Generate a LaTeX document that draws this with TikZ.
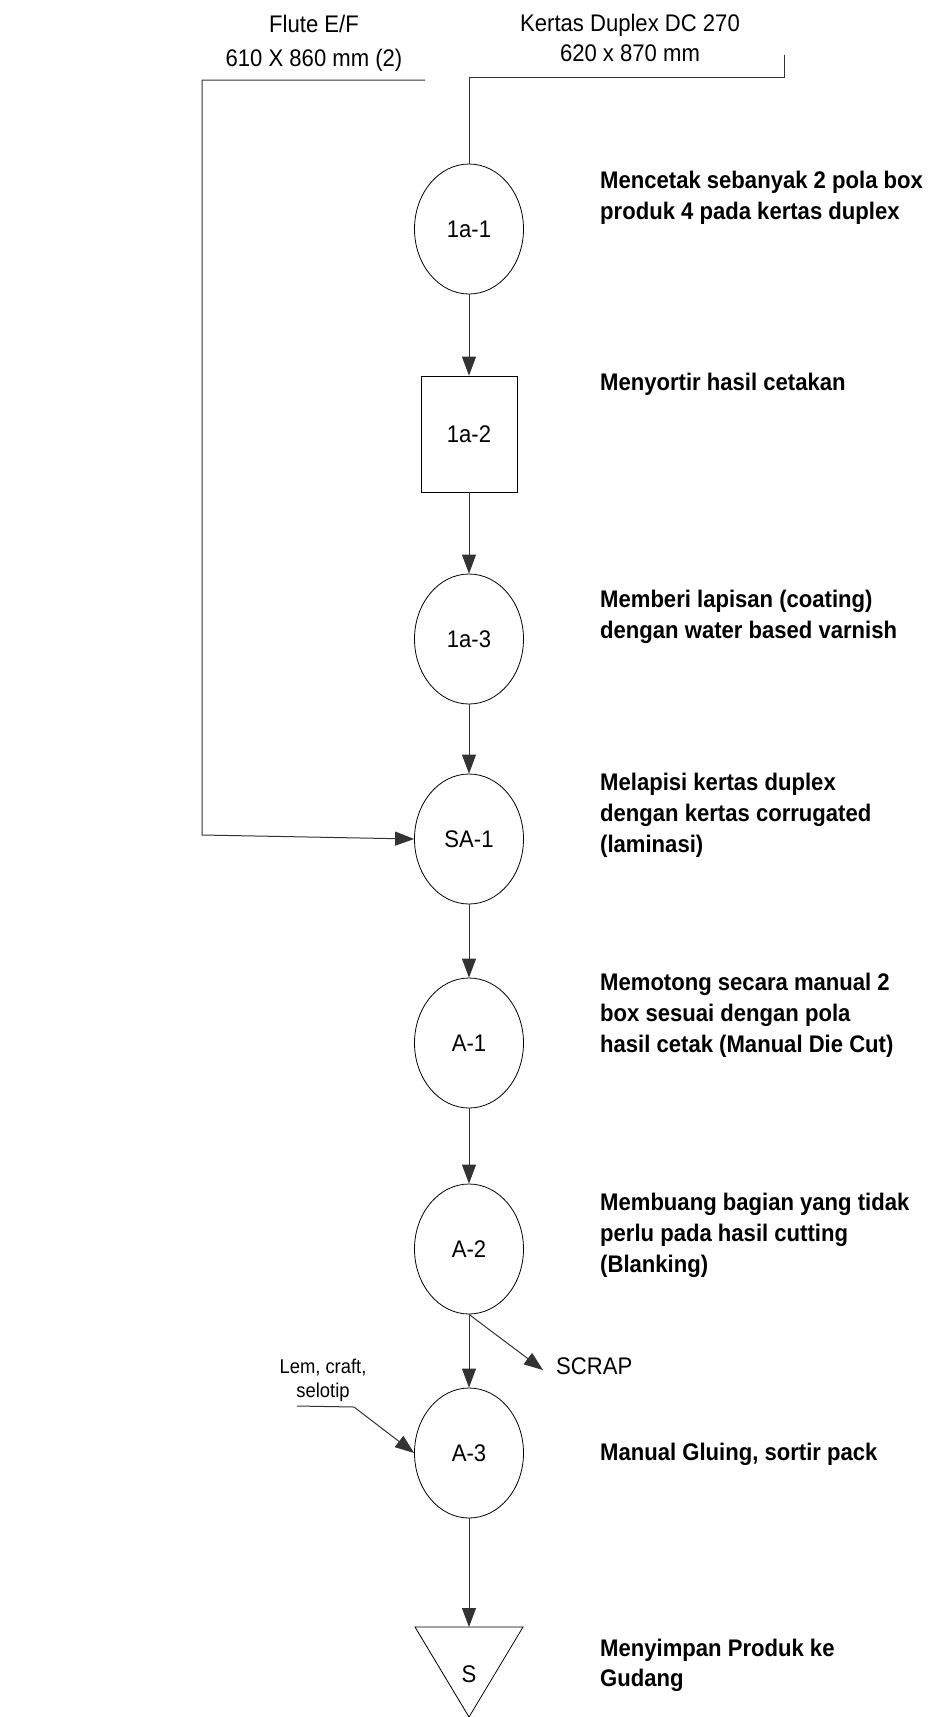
\documentclass[tikz,border=0pt]{standalone}
\usepackage{fontspec}
\setmainfont{Liberation Sans}[FakeStretch=0.92]
\usetikzlibrary{shapes.geometric,arrows.meta}

% left-aligned block of lines whose baseline is that of its first line
\newcommand\linesL[1]{\vtop{\halign{##\hfil\cr#1\crcr}}}
\newcommand\linesC[1]{\vtop{\halign{\hfil##\hfil\cr#1\crcr}}}

\begin{document}
\begin{tikzpicture}[x=1pt,y=-1pt,
  proc/.style={draw, ellipse, line width=0.8pt, minimum width=109pt,
    minimum height=130pt, inner sep=0pt, font=\fontsize{24}{28}\selectfont},
  sortbox/.style={draw, rectangle, line width=0.8pt, minimum width=96pt,
    minimum height=116pt, inner sep=0pt, font=\fontsize{24}{28}\selectfont},
  flow/.style={draw=black!80, line width=1pt, -{Triangle[length=19pt,width=14pt]}},
  feed/.style={draw=black!80, line width=1pt},
  desc/.style={anchor=base west, inner sep=0pt,
    font=\bfseries\fontsize{24}{31}\selectfont},
  src/.style={anchor=base, inner sep=0pt, font=\fontsize{24}{34}\selectfont},
  small/.style={anchor=base, inner sep=0pt, font=\fontsize{20}{24}\selectfont},
]
\useasboundingbox (0,0) rectangle (932,1717);
\fill[white] (0,0) rectangle (932,1717);

% raw material labels
\node[src] (flute) at (314,32) {\linesC{Flute E/F\cr 610 X 860 mm (2)}};
\node[src, font=\fontsize{24}{30}\selectfont] (duplex) at (630,31.5)
  {\linesC{Kertas Duplex DC 270\cr 620 x 870 mm}};

% process chart symbols
\node[proc] (a11) at (469,229) {1a-1};
\node[sortbox] (a12) at (469,434) {1a-2};
\node[proc] (a13) at (469,639) {1a-3};
\node[proc] (sa1) at (469,839) {SA-1};
\node[proc] (A1) at (469,1043) {A-1};
\node[proc] (A2) at (469,1249) {A-2};
\node[proc] (A3) at (469,1453) {A-3};

% storage triangle
\coordinate (stop) at (469,1627);
\draw[line width=0.8pt] (415,1627) -- (523,1627) -- (469,1717) -- cycle;
\node[inner sep=0pt, font=\fontsize{24}{28}\selectfont] (S) at (469,1674) {S};

% descriptions
\node[desc] (d1) at (600,188) {\linesL{Mencetak sebanyak 2 pola box\cr produk 4 pada kertas duplex}};
\node[desc] (d2) at (600,390) {Menyortir hasil cetakan};
\node[desc] (d3) at (600,607) {\linesL{Memberi lapisan (coating)\cr dengan water based varnish}};
\node[desc] (d4) at (600,790) {\linesL{Melapisi kertas duplex\cr dengan kertas corrugated\cr (laminasi)}};
\node[desc] (d5) at (600,990) {\linesL{Memotong secara manual 2\cr box sesuai dengan pola\cr hasil cetak (Manual Die Cut)}};
\node[desc] (d6) at (600,1210) {\linesL{Membuang bagian yang tidak\cr perlu pada hasil cutting\cr (Blanking)}};
\node[desc] (d7) at (600,1460) {Manual Gluing, sortir pack};
\node[desc, font=\bfseries\fontsize{24}{30}\selectfont] (d8) at (600,1656) {\linesL{Menyimpan Produk ke\cr Gudang}};

% side labels
\node[anchor=base west, inner sep=0pt, font=\fontsize{24}{30}\selectfont] (scrap) at (556,1374) {SCRAP};
\node[small] (lem) at (323,1373) {\linesC{Lem, craft,\cr selotip}};

% duplex feed into the first operation
\coordinate (kt) at (784,55);
\coordinate (kc) at (784,77);
\coordinate (kl) at (469,77);
\draw[feed] (kt) -- (kc) -- (kl) -- (a11.north);

% flute feed into lamination
\coordinate (fr) at (425,80);
\coordinate (fl) at (202,80);
\coordinate (fb) at (202,835);
\draw[flow] (fr) -- (fl) -- (fb) -- (sa1.west);

% main flow
\draw[flow] (a11) -- (a12);
\draw[flow] (a12) -- (a13);
\draw[flow] (a13) -- (sa1);
\draw[flow] (sa1) -- (A1);
\draw[flow] (A1) -- (A2);
\draw[flow] (A2) -- (A3);
\draw[flow] (A3) -- (stop);

% scrap output
\coordinate (scrapin) at (543,1370);
\draw[flow] (A2.south) -- (scrapin);

% glue / tape input
\coordinate (l0) at (297,1406);
\coordinate (l1) at (354,1407);
\draw[flow] (l0) -- (l1) -- (A3.west);
\end{tikzpicture}
\end{document}
